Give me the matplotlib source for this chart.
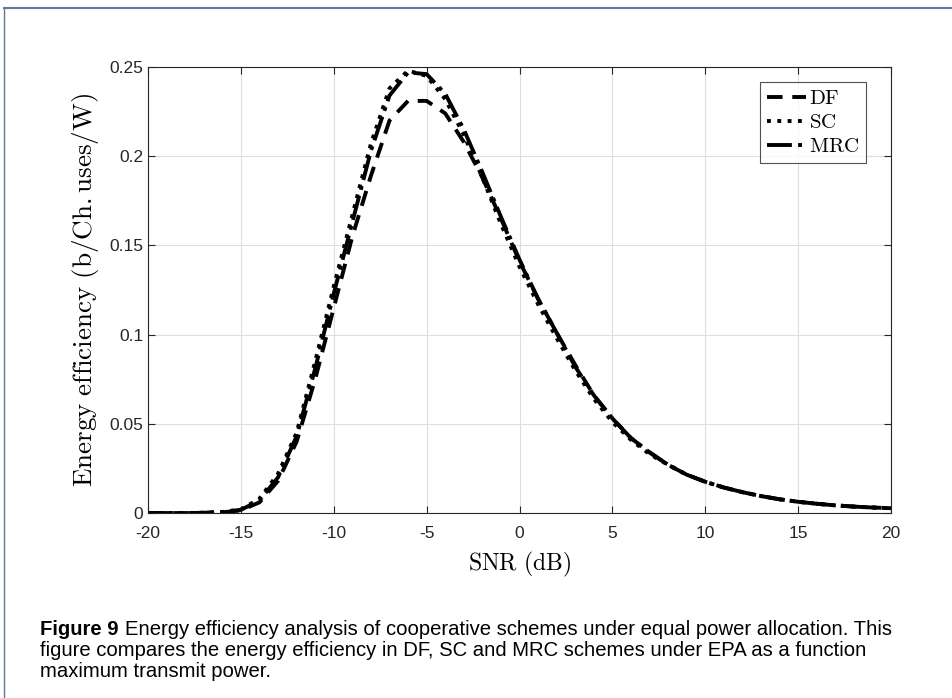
import numpy as np
import matplotlib.pyplot as plt
from matplotlib.lines import Line2D

plt.rcParams['mathtext.fontset'] = 'cm'
plt.rcParams['axes.unicode_minus'] = False

snr = [-20, -19, -18, -17, -16, -15, -14, -13, -12, -11, -10, -9, -8, -7, -6, -5, -4, -3, -2, -1,
       0, 1, 2, 3, 4, 5, 6, 7, 8, 9, 10, 11, 12, 13, 14, 15, 16, 17, 18, 19, 20]

ee_df = [0.0, 0.0, 0.0, 0.0001, 0.0004, 0.0015, 0.006, 0.018, 0.040, 0.075, 0.115, 0.155, 0.189,
         0.220, 0.231, 0.231, 0.224, 0.208, 0.188, 0.165, 0.141, 0.120, 0.101, 0.083, 0.066,
         0.053, 0.042, 0.034, 0.027, 0.0215, 0.0175, 0.0143, 0.0117, 0.0095, 0.0077, 0.0063,
         0.0052, 0.0043, 0.0036, 0.0031, 0.0027]
ee_sc = [0.0, 0.0, 0.0, 0.0002, 0.0006, 0.002, 0.008, 0.022, 0.045, 0.085, 0.127, 0.167, 0.207,
         0.238, 0.248, 0.245, 0.232, 0.212, 0.188, 0.162, 0.138, 0.117, 0.098, 0.080, 0.064,
         0.051, 0.041, 0.033, 0.027, 0.0215, 0.0175, 0.0143, 0.0117, 0.0095, 0.0077, 0.0063,
         0.0052, 0.0043, 0.0036, 0.0031, 0.0027]
ee_mrc = [0.0, 0.0, 0.0, 0.0001, 0.0005, 0.0018, 0.007, 0.020, 0.043, 0.081, 0.123, 0.163, 0.203,
          0.234, 0.247, 0.246, 0.235, 0.215, 0.191, 0.166, 0.142, 0.120, 0.101, 0.082, 0.066,
          0.053, 0.042, 0.034, 0.027, 0.0215, 0.0175, 0.0143, 0.0117, 0.0095, 0.0077, 0.0063,
          0.0052, 0.0043, 0.0036, 0.0031, 0.0027]

caption_bold = "Figure 9"
caption_lines = ["Energy efficiency analysis of cooperative schemes under equal power allocation. This",
                 "figure compares the energy efficiency in DF, SC and MRC schemes under EPA as a function",
                 "maximum transmit power."]

fig = plt.figure(figsize=(9.53, 6.98), dpi=100)
ax = fig.add_axes([0.1553, 0.265, 0.7797, 0.639])

ax.plot(snr, ee_df, '--', color='black', linewidth=2.8, dashes=(4, 2.5), label='DF')
ax.plot(snr, ee_sc, ':', color='black', linewidth=2.8, label='SC')
ax.plot(snr, ee_mrc, '-.', color='black', linewidth=2.8, label='MRC')

ax.set_xlim(-20, 20)
ax.set_ylim(0, 0.25)
ax.set_xticks(range(-20, 21, 5))
ax.set_yticks([0, 0.05, 0.1, 0.15, 0.2, 0.25])
ax.set_yticklabels(['0', '0.05', '0.1', '0.15', '0.2', '0.25'])
ax.grid(True, color='#dedede', linewidth=0.8)
ax.tick_params(direction='in', top=True, right=True, labelsize=12.5, colors='#262626',
               length=5, width=0.8)
ax.tick_params(axis='x', pad=9)
for lab in ax.get_xticklabels() + ax.get_yticklabels():
    lab.set_fontfamily('Liberation Sans')
for s in ax.spines.values():
    s.set_color('#262626')
    s.set_linewidth(0.8)

ax.set_xlabel(r'$\mathrm{SNR\ (dB)}$', fontsize=17, labelpad=7)
ax.set_ylabel(r'$\mathrm{Energy\ efficiency\ (b/Ch.uses/W)}$', fontsize=19.5, labelpad=6)

leg = ax.legend(loc='upper right', bbox_to_anchor=(0.98, 0.99),
                handlelength=1.9, handletextpad=0.15, borderpad=0.3, labelspacing=0.2,
                fancybox=False, edgecolor='#262626', prop={'size': 15})
leg.get_frame().set_linewidth(0.8)
for t in leg.get_texts():
    t.set_text(r'$\mathrm{' + t.get_text() + '}$')

# page frame
fig.add_artist(Line2D([4 / 953, 1], [1 - 8 / 698, 1 - 8 / 698], color='#5d7b9b', linewidth=1.5))
fig.add_artist(Line2D([4 / 953, 4 / 953], [0, 1 - 8 / 698], color='#5d7b9b', linewidth=1.0))

# caption
x0 = 40 / 953
y0 = 1 - 620 / 698
step = 21 / 698
tb = fig.text(x0, y0, caption_bold, fontsize=14.6, fontweight='bold',
              family='Liberation Sans', va='top')
fig.canvas.draw()
bb = tb.get_window_extent(fig.canvas.get_renderer())
fig.text((bb.x1 + 7) / 953, y0, caption_lines[0], fontsize=14.6,
         family='Liberation Sans', va='top')
for i, line in enumerate(caption_lines[1:]):
    fig.text(x0, y0 - step * (i + 1), line, fontsize=14.6, family='Liberation Sans', va='top')

fig.savefig('out.png', dpi=100)
